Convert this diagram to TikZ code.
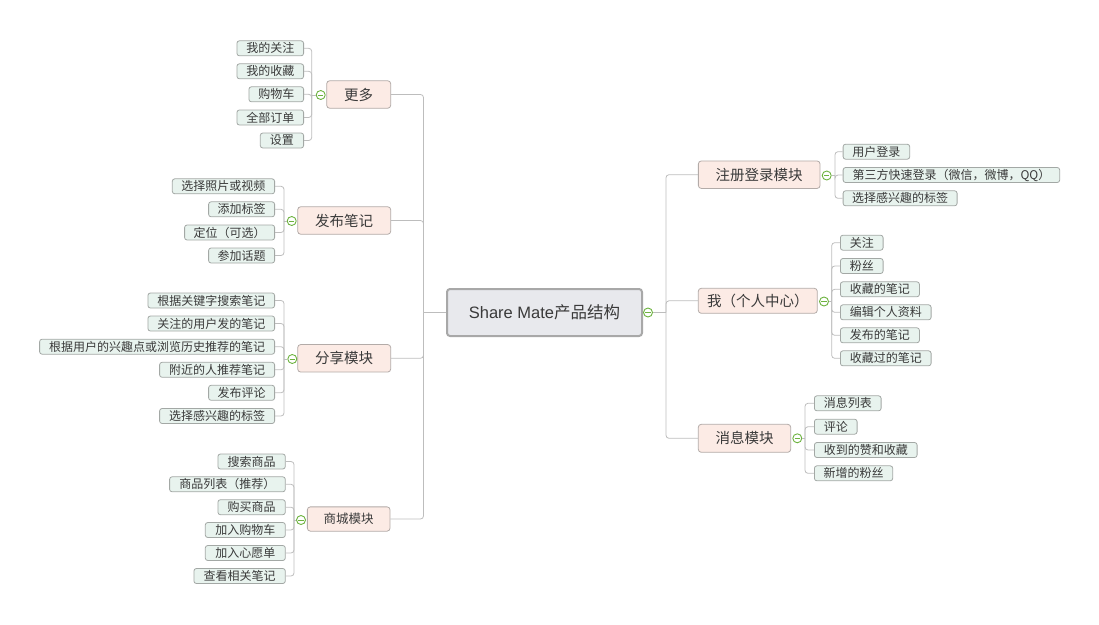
\documentclass[tikz,border=0pt]{standalone}
\usepackage{fontspec}
\newfontfamily\cjk{Noto Sans CJK SC}
\newfontfamily\latinf{Liberation Sans}
\definecolor{rootfill}{HTML}{E8E9ED}
\definecolor{rootborder}{HTML}{A8A8A8}
\definecolor{topicfill}{HTML}{FCEBE5}
\definecolor{topicborder}{HTML}{B3ABA8}
\definecolor{leaffill}{HTML}{E8F3EE}
\definecolor{leafborder}{HTML}{A3A8A5}
\definecolor{linec}{HTML}{BDBDBD}
\definecolor{txt}{HTML}{3A3A3A}
\definecolor{foldc}{HTML}{6DB33F}
\tikzset{
  rootbox/.style={draw=rootborder, line width=2pt, fill=rootfill, rounded corners=3pt,
    minimum width=195, minimum height=47, inner sep=0, text=txt},
  topic/.style={draw=topicborder, line width=0.8pt, fill=topicfill, rounded corners=3pt,
    minimum height=27.5, inner sep=0, text=txt, font=\cjk\fontsize{14.5}{15}\selectfont},
  leaf/.style={draw=leafborder, line width=0.8pt, fill=leaffill, rounded corners=2.5pt,
    minimum height=15, inner sep=0, text=txt, font=\cjk\fontsize{12}{12}\selectfont},
  leafL/.style={leaf, anchor=east},
  leafR/.style={leaf, anchor=west},
  conn/.style={draw=linec, line width=0.8pt, rounded corners=3pt},
  fold/.style={circle, draw=foldc, fill=white, line width=0.9pt, minimum size=9, inner sep=0,
    path picture={\draw[foldc, line width=0.9pt] ([xshift=-2.6pt]path picture bounding box.center) -- ([xshift=2.6pt]path picture bounding box.center);}}
}
\begin{document}
\begin{tikzpicture}[x=1pt, y=-1pt]
\useasboundingbox (0,0) rectangle (1099,624);

% root
\node[rootbox] (root) at (544.5,312.5) {{\latinf\fontsize{16.5}{17}\selectfont Share Mate}{\cjk\fontsize{16.5}{17}\selectfont 产品结构}};
\node[fold] (oc) at (648,312.5) {};
\coordinate (jl) at (423.5,312.5);
\coordinate (jr) at (666,312.5);

% level-1 left
\node[topic, minimum width=64] (T1) at (358.7,94.5) {更多};
\node[topic, minimum width=93] (T2) at (344.2,220.5) {发布笔记};
\node[topic, minimum width=93] (T3) at (344.2,358.3) {分享模块};
\node[topic, minimum width=82.7, minimum height=24.3, font=\cjk\fontsize{12.5}{13}\selectfont] (T4) at (348.7,519) {商城模块};
\node[fold] (o1) at (320.7,95) {};
\node[fold] (o2) at (291.7,221) {};
\node[fold] (o3) at (292.3,359) {};
\node[fold] (o4) at (301,520) {};

% level-1 right
\node[topic, minimum width=121.7] (R1) at (759.2,174.7) {注册登录模块};
\node[topic, minimum width=119, minimum height=25] (R2) at (757.8,300.8) {我（个人中心）};
\node[topic, minimum width=92.4, minimum height=28] (R3) at (744.5,438.3) {消息模块};
\node[fold] (or1) at (826.7,175.5) {};
\node[fold] (or2) at (824,301.5) {};
\node[fold] (or3) at (797.3,438.3) {};

% trunk connectors
\draw[conn] (root.west) -- (jl);
\draw[conn] (T1.east) -| (jl);
\draw[conn] (T2.east) -| (jl);
\draw[conn] (T3.east) -| (jl);
\draw[conn] (T4.east) -| (jl);
\draw[conn] (oc.east) -- (jr);
\draw[conn] (R1.west) -| (jr);
\draw[conn] (R2.west) -| (jr);
\draw[conn] (R3.west) -| (jr);

% group 更多
\coordinate (ba) at (311.7,95);
\node[leafL, minimum width=66.7] (a1) at (304,48.3) {我的关注};
\node[leafL, minimum width=66.7] (a2) at (304,71.3) {我的收藏};
\node[leafL, minimum width=54.7] (a3) at (304,94.3) {购物车};
\node[leafL, minimum width=66.7] (a4) at (304,117.5) {全部订单};
\node[leafL, minimum width=43.3] (a5) at (304,140.5) {设置};
\foreach \n in {a1,a2,a3,a4,a5} \draw[conn] (\n.east) -| (ba);
\draw[conn] (ba) -- (o1.west);

% group 发布笔记
\coordinate (bb) at (284,221);
\node[leafL, minimum width=102.3] (b1) at (275,186.3) {选择照片或视频};
\node[leafL, minimum width=66] (b2) at (275,209.3) {添加标签};
\node[leafL, minimum width=90] (b3) at (275,232.5) {定位（可选）};
\node[leafL, minimum width=66] (b4) at (275,255.5) {参加话题};
\foreach \n in {b1,b2,b3,b4} \draw[conn] (\n.east) -| (bb);
\draw[conn] (bb) -- (o2.west);

% group 分享模块
\coordinate (bc) at (284,359);
\node[leafL, minimum width=126.7] (c1) at (275,300.5) {根据关键字搜索笔记};
\node[leafL, minimum width=126.7] (c2) at (275,323.5) {关注的用户发的笔记};
\node[leafL, minimum width=235] (c3) at (275,346.7) {根据用户的兴趣点或浏览历史推荐的笔记};
\node[leafL, minimum width=115] (c4) at (275,369.8) {附近的人推荐笔记};
\node[leafL, minimum width=66] (c5) at (275,392.8) {发布评论};
\node[leafL, minimum width=115] (c6) at (275,416) {选择感兴趣的标签};
\foreach \n in {c1,c2,c3,c4,c5,c6} \draw[conn] (\n.east) -| (bc);
\draw[conn] (bc) -- (o3.west);

% group 商城模块
\coordinate (bd) at (294,520);
\node[leafL, minimum width=67.4] (d1) at (285.7,461.5) {搜索商品};
\node[leafL, minimum width=115.7] (d2) at (285.7,484.3) {商品列表（推荐）};
\node[leafL, minimum width=67.4] (d3) at (285.7,507.2) {购买商品};
\node[leafL, minimum width=80] (d4) at (285.7,530) {加入购物车};
\node[leafL, minimum width=80] (d5) at (285.7,553) {加入心愿单};
\node[leafL, minimum width=91.4] (d6) at (285.7,576) {查看相关笔记};
\foreach \n in {d1,d2,d3,d4,d5,d6} \draw[conn] (\n.east) -| (bd);
\draw[conn] (bd) -- (o4.west);

% group 注册登录模块
\coordinate (be) at (835,175.5);
\node[leafR, minimum width=66.6] (e1) at (842.7,151.7) {用户登录};
\node[leafR, minimum width=216.6] (e2) at (842.7,175) {第三方快速登录（微信，微博，QQ）};
\node[leafR, minimum width=114] (e3) at (842.7,198.3) {选择感兴趣的标签};
\foreach \n in {e1,e2,e3} \draw[conn] (\n.west) -| (be);
\draw[conn] (be) -- (or1.east);

% group 我（个人中心）
\coordinate (bf) at (831.7,301.5);
\node[leafR, minimum width=42.7] (f1) at (840,242.7) {关注};
\node[leafR, minimum width=42.7] (f2) at (840,266) {粉丝};
\node[leafR, minimum width=79] (f3) at (840,289.3) {收藏的笔记};
\node[leafR, minimum width=90.7] (f4) at (840,312.3) {编辑个人资料};
\node[leafR, minimum width=79] (f5) at (840,335.3) {发布的笔记};
\node[leafR, minimum width=90.7] (f6) at (840,358.3) {收藏过的笔记};
\foreach \n in {f1,f2,f3,f4,f5,f6} \draw[conn] (\n.west) -| (bf);
\draw[conn] (bf) -- (or2.east);

% group 消息模块
\coordinate (bg) at (805,438.3);
\node[leafR, minimum width=66.7] (g1) at (814,403.3) {消息列表};
\node[leafR, minimum width=42.7] (g2) at (814,426.7) {评论};
\node[leafR, minimum width=102.7] (g3) at (814,450) {收到的赞和收藏};
\node[leafR, minimum width=78.3] (g4) at (814,473.3) {新增的粉丝};
\foreach \n in {g1,g2,g3,g4} \draw[conn] (\n.west) -| (bg);
\draw[conn] (bg) -- (or3.east);

\end{tikzpicture}
\end{document}
